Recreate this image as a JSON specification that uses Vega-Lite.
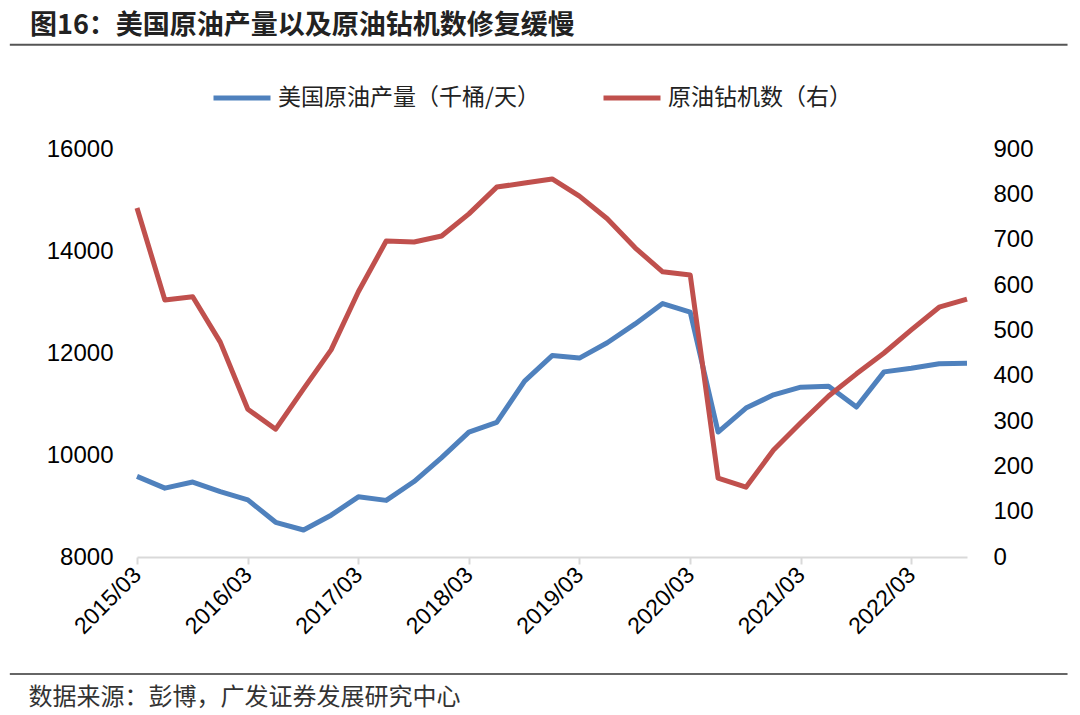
{
  "$schema": "https://vega.github.io/schema/vega-lite/v6.json",
  "width": 830,
  "height": 408,
  "autosize": {"type": "none"},
  "padding": {"left": 137, "top": 149, "right": 113, "bottom": 158},
  "background": "white",
  "title": {
    "text": "图16：美国原油产量以及原油钻机数修复缓慢",
    "anchor": "start",
    "frame": "group",
    "dx": -107,
    "offset": 4,
    "font": "Noto Sans CJK SC",
    "fontSize": 27,
    "fontWeight": "bold",
    "color": "#222222"
  },
  "config": {"view": {"stroke": null}},
  "data": {
    "values": [
      {"date": "2015/03/01", "prod": 9580, "rigs": 770},
      {"date": "2015/06/01", "prod": 9350, "rigs": 567},
      {"date": "2015/09/01", "prod": 9470, "rigs": 574},
      {"date": "2015/12/01", "prod": 9280, "rigs": 474},
      {"date": "2016/03/01", "prod": 9120, "rigs": 326},
      {"date": "2016/06/01", "prod": 8680, "rigs": 282},
      {"date": "2016/09/01", "prod": 8530, "rigs": 371},
      {"date": "2016/12/01", "prod": 8820, "rigs": 457},
      {"date": "2017/03/01", "prod": 9180, "rigs": 585},
      {"date": "2017/06/01", "prod": 9110, "rigs": 697},
      {"date": "2017/09/01", "prod": 9480, "rigs": 695},
      {"date": "2017/12/01", "prod": 9950, "rigs": 708},
      {"date": "2018/03/01", "prod": 10450, "rigs": 757},
      {"date": "2018/06/01", "prod": 10640, "rigs": 816},
      {"date": "2018/09/01", "prod": 11450, "rigs": 825},
      {"date": "2018/12/01", "prod": 11950, "rigs": 834},
      {"date": "2019/03/01", "prod": 11900, "rigs": 796},
      {"date": "2019/06/01", "prod": 12200, "rigs": 746},
      {"date": "2019/09/01", "prod": 12570, "rigs": 682},
      {"date": "2019/12/01", "prod": 12970, "rigs": 629},
      {"date": "2020/03/01", "prod": 12800, "rigs": 622},
      {"date": "2020/06/01", "prod": 10450, "rigs": 174},
      {"date": "2020/09/01", "prod": 10920, "rigs": 154},
      {"date": "2020/12/01", "prod": 11180, "rigs": 236},
      {"date": "2021/03/01", "prod": 11330, "rigs": 296},
      {"date": "2021/06/01", "prod": 11350, "rigs": 355},
      {"date": "2021/09/01", "prod": 10940, "rigs": 404},
      {"date": "2021/12/01", "prod": 11630, "rigs": 450},
      {"date": "2022/03/01", "prod": 11700, "rigs": 501},
      {"date": "2022/06/01", "prod": 11790, "rigs": 551},
      {"date": "2022/09/01", "prod": 11800, "rigs": 569}
    ]
  },
  "layer": [
    {
      "mark": {"type": "line", "strokeWidth": 5, "strokeJoin": "round"},
      "encoding": {
        "x": {
          "field": "date",
          "type": "temporal",
          "scale": {
            "domain": [
              {"year": 2015, "month": 3, "date": 1},
              {"year": 2022, "month": 9, "date": 1}
            ],
            "nice": false
          },
          "axis": {
            "values": [
              {"year": 2015, "month": 3, "date": 1},
              {"year": 2016, "month": 3, "date": 1},
              {"year": 2017, "month": 3, "date": 1},
              {"year": 2018, "month": 3, "date": 1},
              {"year": 2019, "month": 3, "date": 1},
              {"year": 2020, "month": 3, "date": 1},
              {"year": 2021, "month": 3, "date": 1},
              {"year": 2022, "month": 3, "date": 1}
            ],
            "format": "%Y/%m",
            "grid": false,
            "domainColor": "#d9d9d9",
            "domainWidth": 2,
            "tickColor": "#d9d9d9",
            "tickWidth": 2,
            "tickSize": 7,
            "labelAngle": -45,
            "labelAlign": "right",
            "labelBaseline": "middle",
            "labelPadding": 7,
            "labelFont": "Liberation Sans",
            "labelFontSize": 23,
            "labelColor": "#000000",
            "labelOverlap": false,
            "labelFlush": false,
            "title": "数据来源：彭博，广发证券发展研究中心",
            "titleX": -109,
            "titleY": 128,
            "titleAlign": "left",
            "titleAnchor": "start",
            "titleBaseline": "top",
            "titleFont": "Noto Sans CJK SC",
            "titleFontSize": 24,
            "titleFontWeight": "normal",
            "titleColor": "#333333"
          }
        },
        "y": {
          "field": "prod",
          "type": "quantitative",
          "scale": {"domain": [8000, 16000], "nice": false, "zero": false},
          "axis": {
            "orient": "left",
            "values": [8000, 10000, 12000, 14000, 16000],
            "format": "d",
            "grid": false,
            "domain": false,
            "ticks": false,
            "labelPadding": 24,
            "labelFont": "Liberation Sans",
            "labelFontSize": 24,
            "labelColor": "#000000",
            "title": null
          }
        },
        "color": {
          "datum": "美国原油产量（千桶/天）",
          "type": "nominal",
          "scale": {
            "domain": ["美国原油产量（千桶/天）", "原油钻机数（右）"],
            "range": ["#4F81BD", "#C0504D"]
          },
          "legend": {
            "orient": "none",
            "direction": "horizontal",
            "legendX": 74,
            "legendY": -82,
            "title": null,
            "symbolType": "stroke",
            "symbolSize": 3249,
            "symbolStrokeWidth": 5,
            "labelFont": "Noto Sans CJK SC",
            "labelFontSize": 23,
            "labelColor": "#222222",
            "labelOffset": 5,
            "columnPadding": 52,
            "labelLimit": 400
          }
        }
      }
    },
    {
      "mark": {"type": "line", "strokeWidth": 5, "strokeJoin": "round"},
      "encoding": {
        "x": {
          "field": "date",
          "type": "temporal",
          "title": "数据来源：彭博，广发证券发展研究中心"
        },
        "y": {
          "field": "rigs",
          "type": "quantitative",
          "scale": {"domain": [0, 900], "nice": false},
          "axis": {
            "orient": "right",
            "values": [0, 100, 200, 300, 400, 500, 600, 700, 800, 900],
            "grid": false,
            "domain": false,
            "ticks": false,
            "labelPadding": 26,
            "labelFont": "Liberation Sans",
            "labelFontSize": 24,
            "labelColor": "#000000",
            "title": null
          }
        },
        "color": {"datum": "原油钻机数（右）", "type": "nominal"}
      }
    },
    {
      "data": {"values": [{"sep": "top"}]},
      "mark": {"type": "rule", "strokeWidth": 2, "color": "#555555", "clip": false},
      "encoding": {
        "x": {"datum": {"year": 2014, "month": 1, "date": 5}, "type": "temporal"},
        "x2": {"datum": {"year": 2023, "month": 7, "date": 30}},
        "y": {
          "datum": 18045,
          "type": "quantitative",
          "scale": {"domain": [8000, 16000], "nice": false, "zero": false},
          "axis": null
        }
      }
    },
    {
      "data": {"values": [{"sep": "bottom"}]},
      "mark": {"type": "rule", "strokeWidth": 1.5, "color": "#333333", "clip": false},
      "encoding": {
        "x": {"datum": {"year": 2014, "month": 1, "date": 5}, "type": "temporal"},
        "x2": {"datum": {"year": 2023, "month": 7, "date": 30}},
        "y": {
          "datum": 5706,
          "type": "quantitative",
          "scale": {"domain": [8000, 16000], "nice": false, "zero": false},
          "axis": null
        }
      }
    }
  ],
  "resolve": {"scale": {"y": "independent"}}
}
